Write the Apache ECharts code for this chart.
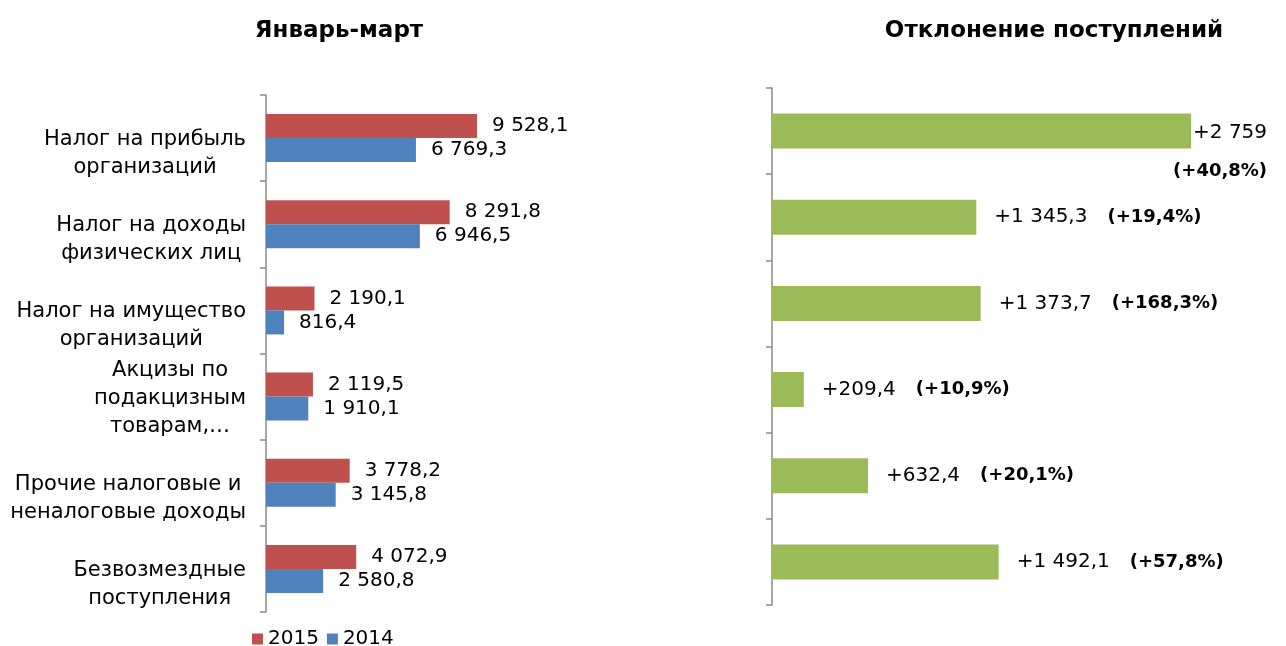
<!DOCTYPE html>
<html><head><meta charset="utf-8">
<script src="https://cdn.jsdelivr.net/npm/echarts@6/dist/echarts.min.js"></script>
<style>html,body{margin:0;padding:0;background:#fff}#c{width:1286px;height:646px}</style>
</head><body><div id="c"></div>
<script>
const categories = ['Налог на прибыль\nорганизаций', 'Налог на доходы\nфизических лиц', 'Налог на имущество\nорганизаций', 'Акцизы по\nподакцизным\nтоварам,…', 'Прочие налоговые и\nненалоговые доходы', 'Безвозмездные\nпоступления'];
const values2015 = [9528.1, 8291.8, 2190.1, 2119.5, 3778.2, 4072.9];
const values2014 = [6769.3, 6946.5, 816.4, 1910.1, 3145.8, 2580.8];
const diffValues = [2759, 1345.3, 1373.7, 209.4, 632.4, 1492.1];
const diffPercents = [40.8, 19.4, 168.3, 10.9, 20.1, 57.8];
const seriesNames = ['2015', '2014'];
const titles = ['Январь-март', 'Отклонение поступлений'];

const FONT = 'DejaVu Sans';
function fmt(v) {
  const s = Number.isInteger(v) ? String(v) : v.toFixed(1);
  const parts = s.split('.');
  const intp = parts[0].replace(/\B(?=(\d{3})+(?!\d))/g, ' ');
  return parts.length > 1 ? intp + ',' + parts[1] : intp;
}
const axisStyle = {
  axisLine: { show: true, lineStyle: { color: '#8a8a8a', width: 1.5 } },
  axisTick: { show: true, inside: false, length: 6, lineStyle: { color: '#8a8a8a', width: 1.5 } }
};
const diffData = diffValues.map((v, i) => i === 0
  ? { value: v, label: { offset: [-36, 21] } }
  : v);

const chart = echarts.init(document.getElementById('c'));
chart.setOption({
  animation: false,
  textStyle: { fontFamily: FONT },
  title: [
    { text: titles[0], left: 334, top: 15, textAlign: 'center', textStyle: { fontFamily: FONT, fontSize: 23, fontWeight: 'bold', color: '#000' } },
    { text: titles[1], left: 1049, top: 15, textAlign: 'center', textStyle: { fontFamily: FONT, fontSize: 23, fontWeight: 'bold', color: '#000' } }
  ],
  legend: {
    data: seriesNames, left: 247, top: 624, itemWidth: 11, itemHeight: 11, itemGap: 8,
    icon: 'rect', textStyle: { fontFamily: FONT, fontSize: 20, color: '#000' }
  },
  grid: [
    { left: 266, top: 95, width: 221.5, height: 517 },
    { left: 772, top: 88, width: 455.7, height: 517 }
  ],
  xAxis: [
    { gridIndex: 0, type: 'value', min: 0, max: 10000, show: false },
    { gridIndex: 1, type: 'value', min: 0, max: 3000, show: false }
  ],
  yAxis: [
    Object.assign({ gridIndex: 0, type: 'category', data: categories, inverse: true,
      axisLabel: { margin: 20, fontFamily: FONT, fontSize: 21, color: '#000', lineHeight: 28,
        formatter: v => '{c|' + (v.split('\n').length === 2 ? '\n' + v : v) + '}',
        rich: { c: { align: 'center', fontFamily: FONT, fontSize: 21, lineHeight: 28, color: '#000', padding: [3, 0, 0, 0] } } } }, axisStyle),
    Object.assign({ gridIndex: 1, type: 'category', data: categories, inverse: true,
      axisLabel: { show: false } }, axisStyle)
  ],
  series: [
    { name: seriesNames[0], type: 'bar', xAxisIndex: 0, yAxisIndex: 0, data: values2015, barWidth: 24, barGap: '0%',
      itemStyle: { color: '#C0504D' },
      label: { show: true, position: 'right', distance: 15, fontFamily: FONT, fontSize: 20, color: '#000', formatter: p => fmt(p.value) } },
    { name: seriesNames[1], type: 'bar', xAxisIndex: 0, yAxisIndex: 0, data: values2014, barWidth: 24, barGap: '0%',
      itemStyle: { color: '#4F81BD' },
      label: { show: true, position: 'right', distance: 15, fontFamily: FONT, fontSize: 20, color: '#000', formatter: p => fmt(p.value) } },
    { name: 'diff', type: 'bar', xAxisIndex: 1, yAxisIndex: 1, data: diffData, barWidth: 35,
      itemStyle: { color: '#9BBB59' },
      label: { show: true, position: 'right', distance: 18, color: '#000',
        formatter: p => {
          const v = '+' + fmt(diffValues[p.dataIndex]);
          const pc = '(+' + fmt(diffPercents[p.dataIndex]) + '%)';
          return p.dataIndex === 0 ? '{v0|' + v + '}\n{p0|' + pc + '}' : '{v|' + v + '}{p|' + pc + '}';
        },
        rich: {
          v: { fontFamily: FONT, fontSize: 20, color: '#000' },
          p: { fontFamily: FONT, fontSize: 18, fontWeight: 'bold', color: '#000', padding: [0, 0, 0, 20] },
          v0: { fontFamily: FONT, fontSize: 20, color: '#000', align: 'right', lineHeight: 39 },
          p0: { fontFamily: FONT, fontSize: 18, fontWeight: 'bold', color: '#000', align: 'right', lineHeight: 39 }
        } } }
  ]
});
</script></body></html>
